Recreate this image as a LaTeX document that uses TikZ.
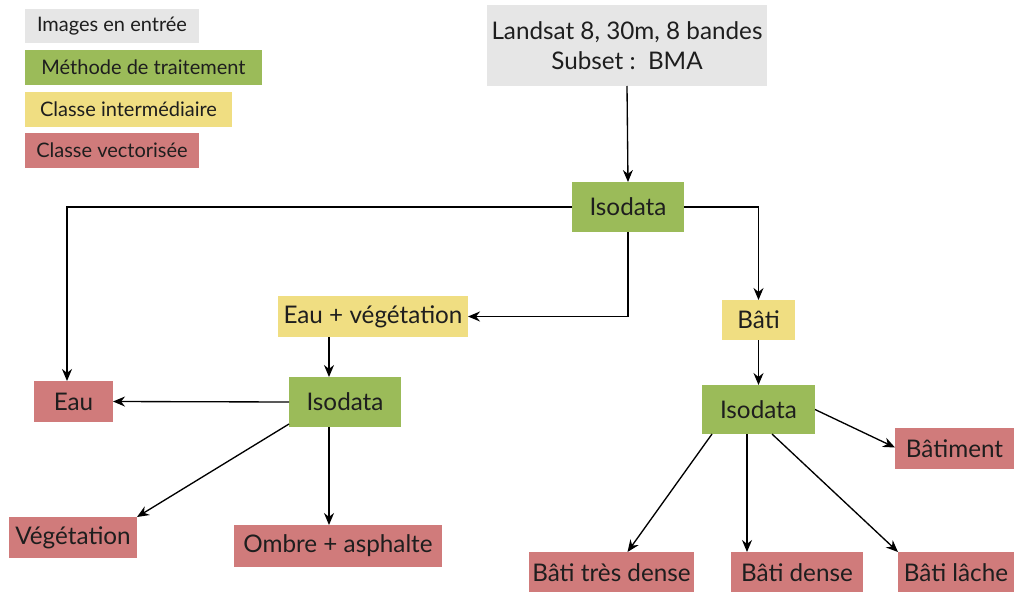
\documentclass[tikz,border=0pt]{standalone}
\usepackage{fontspec}
\setmainfont{Lato}
\usetikzlibrary{arrows.meta,calc}
\definecolor{cgrey}{RGB}{230,230,230}
\definecolor{cgreen}{RGB}{155,187,89}
\definecolor{cyellow}{RGB}{240,222,130}
\definecolor{cred}{RGB}{208,123,123}
\definecolor{ctext}{RGB}{30,30,30}
\begin{document}
\begin{tikzpicture}[x=0.75pt,y=-0.75pt,
  box/.style={inner sep=0pt,outer sep=0pt,align=center,text=ctext,font=\fontsize{18.2}{23}\selectfont},
  leg/.style={box,font=\fontsize{15}{17}\selectfont},
  arr/.style={-{Stealth[length=9pt,width=7.5pt]},line width=1pt,black}]
\useasboundingbox (0,0) rectangle (1014,592);
% legend
\node[leg,fill=cgrey,minimum width=130.5pt,minimum height=25.5pt] (l1) at (112,26) {Images en entrée};
\node[leg,fill=cgreen,minimum width=177.75pt,minimum height=26.25pt] (l2) at (143.5,67.5) {Méthode de traitement};
\node[leg,fill=cyellow,minimum width=155.25pt,minimum height=26.25pt] (l3) at (128.5,109.5) {Classe intermédiaire};
\node[leg,fill=cred,minimum width=130.5pt,minimum height=26.25pt] (l4) at (112,150.5) {Classe vectorisée};
% nodes
\node[box,fill=cgrey,minimum width=210pt,minimum height=60.75pt] (src) at (627,45.5) {Landsat 8, 30m, 8 bandes\\Subset :\ \ BMA};
\node[box,fill=cgreen,minimum width=84pt,minimum height=37.5pt] (iso1) at (628,207) {Isodata};
\node[box,fill=cyellow,minimum width=142.5pt,minimum height=30.75pt] (eauveg) at (373,316.5) {Eau + végétation};
\node[box,fill=cyellow,minimum width=54.75pt,minimum height=30pt] (bati) at (758.5,320) {Bâti};
\node[box,fill=cgreen,minimum width=84pt,minimum height=37.5pt] (iso2) at (345,402) {Isodata};
\node[box,fill=cgreen,minimum width=84.75pt,minimum height=36.75pt] (iso3) at (758.5,409.5) {Isodata};
\node[box,fill=cred,minimum width=59.25pt,minimum height=30.75pt] (eau) at (73.5,401.5) {Eau};
\node[box,fill=cred,minimum width=96pt,minimum height=30.75pt] (veg) at (73,537.5) {Végétation};
\node[box,fill=cred,minimum width=156pt,minimum height=31.5pt] (ombre) at (338,546) {Ombre + asphalte};
\node[box,fill=cred,minimum width=89.25pt,minimum height=30.75pt] (batim) at (954.5,448.5) {Bâtiment};
\node[box,fill=cred,minimum width=123.75pt,minimum height=30.75pt] (tdense) at (611.5,572.5) {Bâti très dense};
\node[box,fill=cred,minimum width=99pt,minimum height=30.75pt] (dense) at (797,572.5) {Bâti dense};
\node[box,fill=cred,minimum width=87pt,minimum height=30.75pt] (lache) at (956,572.5) {Bâti lâche};
\coordinate (cx2) at (329,0);
\coordinate (cx3) at (747,0);
\coordinate (cxe) at (67,0);
% connectors
\draw[arr] (src.south) -- (iso1.north);
\draw[arr] (iso1.west) -| (eau.north -| cxe);
\draw[arr] (iso1.east) -| (bati.north);
\draw[arr] (iso1.south) |- (eauveg.east);
\draw[arr] (eauveg.south -| cx2) -- (iso2.north -| cx2);
\draw[arr] (iso2.west) -- (eau.east);
\draw[arr] ($(iso2.south west)+(0,-3)$) -- (veg.north east);
\draw[arr] (iso2.south -| cx2) -- (ombre.north -| cx2);
\draw[arr] (bati.south) -- (iso3.north);
\draw[arr] (iso3.east) -- ($(batim.west)+(0,-1)$);
\draw[arr] ($(iso3.south west)+(10,0)$) -- ($(tdense.north)+(16,0)$);
\draw[arr] (iso3.south -| cx3) -- (dense.north -| cx3);
\draw[arr] ($(iso3.south west)+(70,0)$) -- (lache.north west);
\end{tikzpicture}
\end{document}
